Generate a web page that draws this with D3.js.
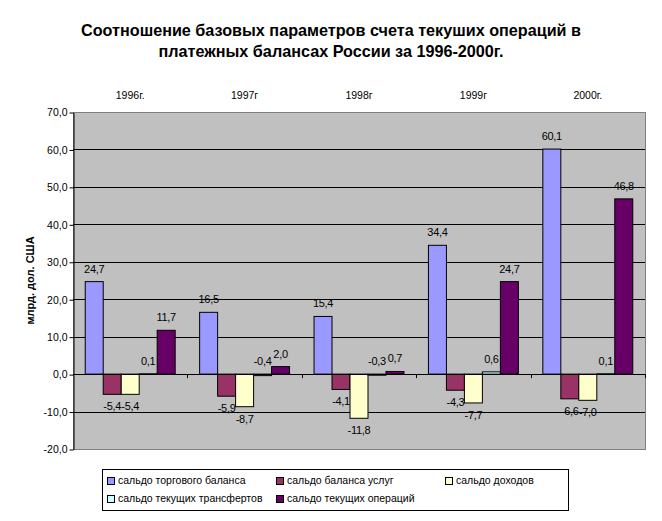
<!DOCTYPE html>
<html lang="ru">
<head>
  <meta charset="UTF-8" />
  <title>Счет текущих операций 1996-2000</title>
  <script src="https://cdnjs.cloudflare.com/ajax/libs/d3/7.8.5/d3.min.js"></script>
  <style>
    body { margin: 0; background: #fff; }
    text { font-family: "Liberation Sans", Arial, sans-serif; }
  </style>
</head>
<body>
  <svg width="662" height="521"></svg>

  <script>
    // данные
    const years = ['1996г.', '1997г', '1998г', '1999г', '2000г.'];
    const seriesNames = [
      'сальдо торгового баланса',
      'сальдо баланса услуг',
      'сальдо доходов',
      'сальдо текущих трансфертов',
      'сальдо текущих операций',
    ];
    const trade = [24.7, 16.5, 15.4, 34.4, 60.1];
    const services = [-5.4, -5.9, -4.1, -4.3, -6.6];
    const income = [-5.4, -8.7, -11.8, -7.7, -7.0];
    const transfers = [0.1, -0.4, -0.3, 0.6, 0.1];
    const current = [11.7, 2.0, 0.7, 24.7, 46.8];
    const yTicks = [-20, -10, 0, 10, 20, 30, 40, 50, 60, 70];

    const seriesValues = [trade, services, income, transfers, current];
    const colors = ['#9999FF', '#993366', '#FFFFCC', '#CCFFFF', '#660066'];

    const svg = d3.select('svg');
    const plot = { left: 73, right: 645, top: 112, bottom: 449 };

    // шкалы
    const x0 = d3.scaleBand().domain(years).range([plot.left, plot.right]).paddingInner(0).paddingOuter(0);
    const x1 = d3.scaleBand().domain(d3.range(5)).range([0, x0.bandwidth()]).paddingOuter(0.68).paddingInner(0);
    const y = d3.scaleLinear().domain([-20, 70]).range([plot.bottom, plot.top]);

    const fmt = (v) => d3.format('.1f')(v).replace('.', ',').replace('−', '-');

    // заголовок
    const title = svg.append('text')
      .attr('x', 331).attr('y', 36)
      .attr('text-anchor', 'middle')
      .style('font-size', '16.2px').style('font-weight', 'bold');
    title.append('tspan').attr('x', 331).attr('dy', 0).text('Соотношение базовых параметров счета текуших операций в');
    title.append('tspan').attr('x', 331).attr('dy', 21).text('платежных балансах России за 1996-2000г.');

    // область построения
    svg.append('rect')
      .attr('x', plot.left + 0.5).attr('y', plot.top + 0.5)
      .attr('width', plot.right - plot.left).attr('height', plot.bottom - plot.top)
      .attr('fill', '#C0C0C0').attr('stroke', '#808080').attr('stroke-width', 1);

    // сетка
    svg.append('g').selectAll('line')
      .data(yTicks.filter((d) => d > -20 && d < 70))
      .enter().append('line')
      .attr('x1', plot.left).attr('x2', plot.right)
      .attr('y1', (d) => Math.round(y(d)) + 0.5).attr('y2', (d) => Math.round(y(d)) + 0.5)
      .attr('stroke', '#000').attr('stroke-width', 1);

    // ось Y
    const yAxis = d3.axisLeft(y).tickValues(yTicks).tickSize(4).tickSizeOuter(0).tickFormat(fmt);
    const gy = svg.append('g').attr('transform', `translate(${plot.left + 0.5},0.5)`).call(yAxis);
    gy.select('.domain').attr('stroke', '#000');
    gy.selectAll('.tick line').attr('stroke', '#000');
    gy.selectAll('.tick text').style('font-size', '10.5px').style('font-family', '"Liberation Sans", Arial, sans-serif')
      .attr('fill', '#000').attr('x', -6);

    svg.append('text')
      .attr('transform', `translate(34,${(plot.top + plot.bottom) / 2}) rotate(-90)`)
      .attr('text-anchor', 'middle')
      .style('font-size', '11px').style('font-weight', 'bold')
      .text('млрд. дол. США');

    // столбцы
    const groups = svg.append('g').selectAll('g')
      .data(years)
      .enter().append('g')
      .attr('transform', (d) => `translate(${x0(d)},0)`);

    groups.selectAll('rect')
      .data((d, i) => seriesValues.map((s, k) => ({ k, v: s[i] })))
      .enter().append('rect')
      .attr('x', (d) => x1(d.k))
      .attr('y', (d) => y(Math.max(0, d.v)))
      .attr('width', x1.bandwidth())
      .attr('height', (d) => Math.abs(y(d.v) - y(0)))
      .attr('fill', (d) => colors[d.k])
      .attr('stroke', '#000').attr('stroke-width', 1);

    // подписи значений: почти нулевые — над осью, остальные — у конца столбца
    groups.selectAll('text.lbl')
      .data((d, i) => seriesValues.map((s, k) => ({ k, v: s[i] })))
      .enter().append('text')
      .attr('class', 'lbl')
      .attr('x', (d) => x1(d.k) + x1.bandwidth() / 2)
      .attr('y', (d) => (d.v >= 0 || Math.abs(d.v) < 1 ? y(Math.max(d.v, 0)) - 12 : y(d.v) + 13))
      .attr('text-anchor', 'middle')
      .attr('dominant-baseline', 'middle')
      .style('font-size', '11px')
      .style('letter-spacing', '-0.3px')
      .text((d) => fmt(d.v));

    // ось категорий на нуле
    svg.append('line')
      .attr('x1', plot.left).attr('x2', plot.right)
      .attr('y1', Math.round(y(0)) + 0.5).attr('y2', Math.round(y(0)) + 0.5)
      .attr('stroke', '#000');
    svg.append('g').selectAll('line')
      .data(years.slice(1).concat(['end']))
      .enter().append('line')
      .attr('x1', (d) => Math.round(d === 'end' ? plot.right : x0(d)) + 0.5)
      .attr('x2', (d) => Math.round(d === 'end' ? plot.right : x0(d)) + 0.5)
      .attr('y1', y(0)).attr('y2', y(0) + 4)
      .attr('stroke', '#000');

    // подписи лет сверху
    svg.append('g').selectAll('text')
      .data(years)
      .enter().append('text')
      .attr('x', (d) => x0(d) + x0.bandwidth() / 2)
      .attr('y', 99)
      .attr('text-anchor', 'middle')
      .style('font-size', '10.5px')
      .text((d) => d);

    // легенда
    const lg = svg.append('g');
    lg.append('rect')
      .attr('x', 102.5).attr('y', 469.5).attr('width', 466).attr('height', 41)
      .attr('fill', '#fff').attr('stroke', '#000');
    const colX = [107, 276, 445];
    const item = lg.selectAll('g')
      .data(seriesNames)
      .enter().append('g')
      .attr('transform', (d, i) => `translate(${colX[i % 3]},${i < 3 ? 481 : 499})`);
    item.append('rect')
      .attr('x', 0.5).attr('y', -3.5).attr('width', 7).attr('height', 7)
      .attr('fill', (d, i) => colors[i]).attr('stroke', '#000');
    item.append('text')
      .attr('x', 11).attr('y', 0)
      .attr('dominant-baseline', 'middle')
      .style('font-size', '10.5px')
      .text((d) => d);
  </script>
</body>
</html>
